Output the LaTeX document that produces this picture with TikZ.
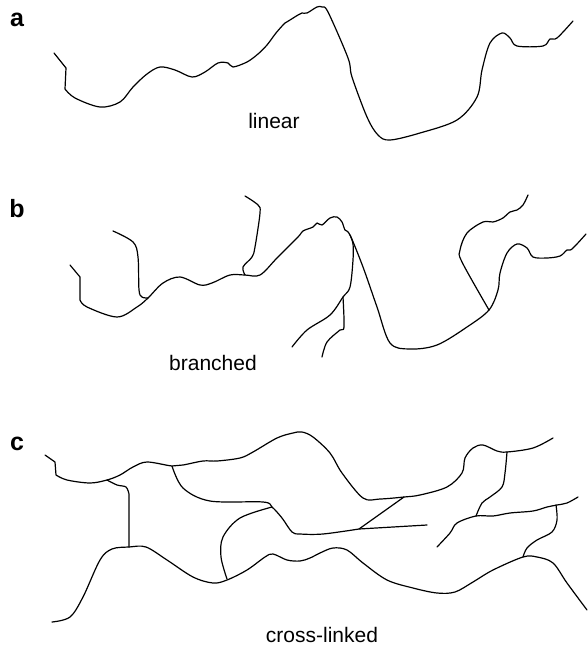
\documentclass[tikz,border=0pt]{standalone}
\usepackage{fontspec}
\setmainfont{Liberation Sans}
\usepackage{tikz}

\begin{document}
\begin{tikzpicture}[x=1pt,y=-1pt,
  chain/.style={line width=1.2pt,line join=round,line cap=round},
  sm/.style={smooth,tension=0.55},
  tag/.style={anchor=base,inner sep=0pt,font=\bfseries\fontsize{25}{25}\selectfont},
  kind/.style={anchor=base,inner sep=0pt,font=\fontsize{21}{21}\selectfont}]
\useasboundingbox (0,0) rectangle (587,645);
% a: linear
\node[tag] (taga) at (17,26) {a};
\node[kind] (lin) at (274,128) {linear};
\draw[chain] (54,53) -- (66,68) -- plot[sm] coordinates {(65,89) (75,98) (100,107) (120,102) (133,87) (147,74) (160,67) (175,70) (192,77) (205,72) (218,63) (228,63) (233,67) (247,62) (258,54) (267,45) (276,33) (285,23) (290,20) (298,15) (302,13) (307,13) (317,7) (322,7) (328,12) (348,58) (352,77) (367,117) (378,135) (390,140) (420,133) (457,120) (477,97) (482,70) (490,43) (502,33) (510,38) (517,46) (543,46) (550,39) (557,38) (573,21)};
% b: branched
\node[tag] (tagb) at (17,217) {b};
\node[kind] (bra) at (213,370) {branched};
\draw[chain] (70,265) -- (80,277) -- plot[sm] coordinates {(80,300) (87,307) (117,317) (137,307) (148,298) (163,283) (180,277) (200,285) (212,283) (230,275) (245,275) (260,275) (277,258) (298,237) (303,231) (313,227) (317,223) (322,225) (330,218) (337,217) (342,222) (345,230) (350,235) (363,267) (377,307) (390,343) (410,349) (437,345) (467,327) (489,310) (498,290) (500,273) (507,253) (517,244) (527,248) (533,257) (547,258) (560,256) (567,250) (572,249) (586,234)};
\draw[chain] plot[sm] coordinates {(148,298) (142,297) (139,290) (138,257) (133,242) (113,231)};
\draw[chain] plot[sm] coordinates {(245,275) (243,267) (252,257) (255,247) (260,213) (258,205) (245,196)};
\draw[chain] plot[sm] coordinates {(350,235) (353,244) (353,260) (350,287) (343,297) (330,315) (307,330) (292,347)};
\draw[chain] plot[sm] coordinates {(343,297) (344,327) (340,330) (327,342) (322,357)};
\draw[chain] plot[sm] coordinates {(489,310) (462,262) (460,250) (467,233) (483,222) (493,222) (503,218) (510,212) (517,210) (523,205) (528,195)};
% c: cross-linked
\node[tag] (tagc) at (17,450) {c};
\node[kind] (cro) at (322,642) {cross-linked};
\draw[chain] (45,455) -- (55,462) -- plot[sm] coordinates {(56,475) (67,480) (90,483) (107,480) (120,475) (133,467) (147,462) (172,466) (183,465) (203,461) (217,461) (240,458) (253,452) (277,438) (293,433) (302,432) (313,437) (330,453) (342,473) (363,498) (380,499) (404,497) (420,495) (447,487) (462,473) (465,458) (473,448) (483,445) (497,451) (507,452) (533,448) (553,438)};
\draw[chain] plot[sm] coordinates {(107,480) (117,485) (126,487) (129,494)} -- (129,547);
\draw[chain] plot[sm] coordinates {(52,622) (70,617) (83,597) (100,560) (112,549) (129,547) (146,547) (167,560) (193,577) (213,583) (227,580) (247,570) (265,557) (273,554) (287,560) (300,561) (310,558) (320,553) (333,548) (347,550) (363,563) (387,580) (413,588) (437,593) (455,592) (473,582) (493,570) (523,557) (537,557) (553,563) (567,583) (587,610)};
\draw[chain] plot[sm] coordinates {(172,466) (183,488) (210,501) (263,502) (272,507) (282,518) (292,532) (300,534) (323,534) (359,529)} -- (427,525);
\draw[chain] (404,497) -- (359,529);
\draw[chain] plot[sm] coordinates {(272,507) (240,518) (223,537) (221,557) (227,579)};
\draw[chain] plot[sm] coordinates {(507,452) (505,473) (502,487) (490,497) (482,503) (476,516)};
\draw[chain] plot[sm] coordinates {(437,547) (450,533) (457,523) (476,516) (493,516) (510,513) (533,511) (547,507) (557,505) (567,503) (578,497)};
\draw[chain] plot[sm] coordinates {(556,505) (557,520) (552,532) (537,540) (527,548) (523,557)};
\end{tikzpicture}
\end{document}
